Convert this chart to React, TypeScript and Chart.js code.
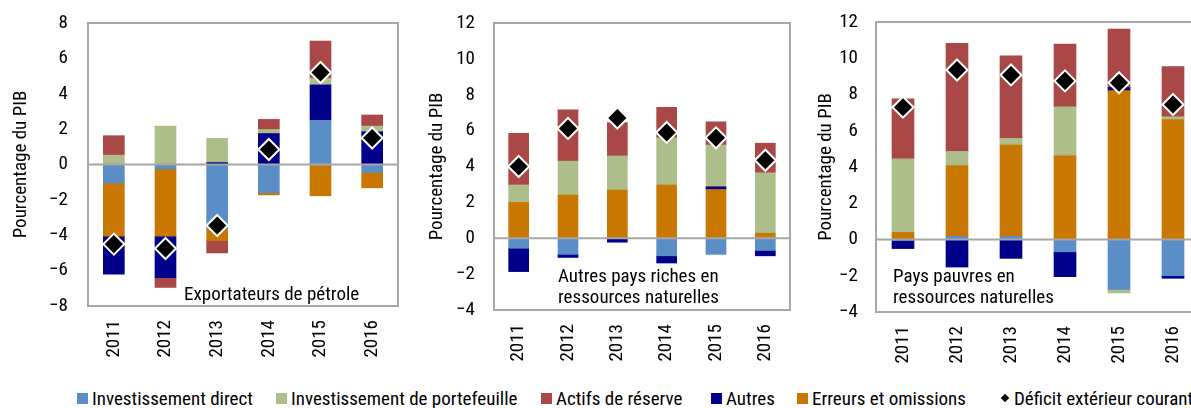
import React, { useEffect, useRef } from 'react';
import { Chart, registerables } from 'chart.js';

Chart.register(...registerables);

// ---------- data ----------
const years = ['2011', '2012', '2013', '2014', '2015', '2016'];
const yTitle = 'Pourcentage du PIB';

// Panel 1: Exportateurs de pétrole
const oilDirect = [-1.05, -0.25, -3.65, -1.6, 2.5, -0.45];
const oilErrors = [-3.0, -3.8, -0.65, -0.12, -1.77, -0.87];
const oilOther = [-2.15, -2.35, 0.11, 1.75, 2.0, 1.85];
const oilPortfolio = [0.53, 2.17, 1.37, 0.23, 0.38, 0.32];
const oilReserve = [1.1, -0.55, -0.7, 0.57, 2.1, 0.63];
const oilDeficit = [-4.5, -4.75, -3.45, 0.85, 5.2, 1.5];

// Panel 2: Autres pays riches en ressources naturelles
const richDirect = [-0.56, -0.9, -0.02, -0.98, -0.9, -0.68];
const richErrors = [2.0, 2.4, 2.68, 2.97, 2.72, 0.28];
const richOther = [-1.3, -0.17, -0.2, -0.4, 0.15, -0.3];
const richPortfolio = [0.97, 1.9, 1.91, 2.63, 2.33, 3.37];
const richReserve = [2.88, 2.86, 1.86, 1.7, 1.29, 1.65];
const richDeficit = [4.0, 6.12, 6.7, 5.9, 5.6, 4.35];

// Panel 3: Pays pauvres en ressources naturelles
const poorDirect = [-0.05, 0.17, 0.17, -0.68, -2.75, -2.0];
const poorErrors = [0.39, 3.91, 5.04, 4.62, 8.21, 6.62];
const poorOther = [-0.45, -1.52, -1.04, -1.37, 0.18, -0.14];
const poorPortfolio = [4.06, 0.78, 0.37, 2.7, -0.2, 0.15];
const poorReserve = [3.31, 5.97, 4.55, 3.46, 3.22, 2.77];
const poorDeficit = [7.3, 9.35, 9.08, 8.75, 8.65, 7.45];

const panel1Label = ['Exportateurs de pétrole'];
const panel2Label = ['Autres pays riches en', 'ressources naturelles'];
const panel3Label = ['Pays pauvres en', 'ressources naturelles'];

const seriesNames = {
  direct: 'Investissement direct',
  portfolio: 'Investissement de portefeuille',
  reserve: 'Actifs de réserve',
  other: 'Autres',
  errors: 'Erreurs et omissions',
  deficit: 'Déficit extérieur courant',
};

const COLORS = {
  direct: '#5B8DC6',
  portfolio: '#ADBE8A',
  reserve: '#A94846',
  other: '#00008A',
  errors: '#C87700',
  frame: '#A6A6A6',
};

// ---------- fonts ----------
function hasFont(name: string): boolean {
  try {
    const c = document.createElement('canvas').getContext('2d');
    if (!c) return false;
    const s = 'Investissement 2011 Wm';
    c.font = '40px monospace';
    const a = c.measureText(s).width;
    c.font = `40px "${name}", monospace`;
    const b = c.measureText(s).width;
    return Math.abs(a - b) > 0.5;
  } catch (e) {
    return false;
  }
}
const CONDENSED = hasFont('Roboto Condensed');
const FAMILY = CONDENSED
  ? '"Roboto Condensed", "Liberation Sans", Arial, sans-serif'
  : '"Liberation Sans", Arial, sans-serif';
const FS = CONDENSED ? 19 : 17;

interface PanelSpec {
  direct: number[];
  errors: number[];
  other: number[];
  portfolio: number[];
  reserve: number[];
  deficit: number[];
  min: number;
  max: number;
  left: number;
  width: number;
  height: number;
  axisW: number;
  right: number;
  top: number;
  bottom: number;
  barW: number;
  titleCenter: number;
  tickPad: number;
  label: string[];
  labelX: number;
  labelY: number[];
}

const H = 380;

const panels: PanelSpec[] = [
  {
    direct: oilDirect, errors: oilErrors, other: oilOther, portfolio: oilPortfolio, reserve: oilReserve, deficit: oilDeficit,
    min: -8, max: 8,
    left: 0, width: 412, height: H, axisW: 88, right: 398, top: 23, bottom: 306,
    barW: 21, titleCenter: 21, tickPad: 20,
    label: panel1Label, labelX: 184, labelY: [295],
  },
  {
    direct: richDirect, errors: richErrors, other: richOther, portfolio: richPortfolio, reserve: richReserve, deficit: richDeficit,
    min: -4, max: 12,
    left: 404, width: 400, height: H, axisW: 90, right: 386, top: 23, bottom: 310,
    barW: 20, titleCenter: 33.5, tickPad: 19,
    label: panel2Label, labelX: 154, labelY: [277, 298],
  },
  {
    direct: poorDirect, errors: poorErrors, other: poorOther, portfolio: poorPortfolio, reserve: poorReserve, deficit: poorDeficit,
    min: -4, max: 12,
    left: 800, width: 414, height: H, axisW: 76, right: 400, top: 22, bottom: 312,
    barW: 22, titleCenter: 26, tickPad: 18,
    label: panel3Label, labelX: 93, labelY: [277, 298],
  },
];

const framePlugin = {
  id: 'frameAndLabel',
  afterDraw(chart: any, _args: any, opts: any) {
    const { ctx, chartArea } = chart;
    const { left, top, right, bottom } = chartArea;
    const y0 = chart.scales.y.getPixelForValue(0);
    ctx.save();
    ctx.strokeStyle = COLORS.frame;
    ctx.lineWidth = 2;
    ctx.beginPath();
    ctx.moveTo(left, y0);
    ctx.lineTo(right, y0);
    ctx.stroke();
    ctx.strokeRect(left, top, right - left, bottom - top);
    ctx.fillStyle = '#000';
    ctx.font = `${FS}px ${FAMILY}`;
    ctx.textAlign = 'left';
    ctx.textBaseline = 'middle';
    (opts.lines || []).forEach((t: string, i: number) => {
      ctx.fillText(t, opts.x, opts.ys[i]);
    });
    ctx.restore();
  },
};

function buildConfig(p: PanelSpec): any {
  const font = { family: FAMILY, size: FS };
  const bar = (label: string, data: number[], color: string) => ({
    type: 'bar',
    label,
    data,
    backgroundColor: color,
    borderWidth: 0,
    barThickness: p.barW,
    stack: 'flows',
    order: 1,
  });
  return {
    type: 'bar',
    data: {
      labels: years,
      datasets: [
        bar(seriesNames.direct, p.direct, COLORS.direct),
        bar(seriesNames.errors, p.errors, COLORS.errors),
        bar(seriesNames.other, p.other, COLORS.other),
        bar(seriesNames.portfolio, p.portfolio, COLORS.portfolio),
        bar(seriesNames.reserve, p.reserve, COLORS.reserve),
        {
          type: 'line',
          label: seriesNames.deficit,
          data: p.deficit,
          showLine: false,
          stack: 'deficit',
          order: 0,
          pointStyle: 'rectRot',
          pointRadius: 10.5,
          pointHoverRadius: 10.5,
          pointBackgroundColor: '#000',
          pointBorderColor: '#fff',
          pointBorderWidth: 2,
        },
      ],
    },
    options: {
      responsive: false,
      animation: false,
      events: [],
      layout: { autoPadding: false, padding: { top: p.top, right: p.width - p.right, left: 0, bottom: 0 } },
      plugins: {
        legend: { display: false },
        tooltip: { enabled: false },
        frameAndLabel: { lines: p.label, x: p.labelX, ys: p.labelY },
      },
      scales: {
        x: {
          stacked: true,
          offset: true,
          grid: { display: false, drawTicks: false },
          border: { display: false },
          ticks: {
            autoSkip: false,
            minRotation: 90,
            maxRotation: 90,
            padding: 14,
            color: '#000',
            font,
          },
          afterFit: (s: any) => {
            s.height = p.height - p.bottom;
            s.paddingLeft = 0;
            s.paddingRight = 0;
          },
        },
        y: {
          stacked: true,
          min: p.min,
          max: p.max,
          grid: { display: false, drawTicks: false },
          border: { display: false },
          ticks: {
            stepSize: 2,
            padding: p.tickPad,
            color: '#000',
            font,
            callback: (v: any) => String(v).replace('-', '\u2212'),
          },
          title: {
            display: true,
            text: yTitle,
            color: '#000',
            font,
            padding: { top: p.titleCenter - (FS * 1.2) / 2, bottom: 0 },
          },
          afterFit: (s: any) => {
            s.width = p.axisW;
            s.paddingTop = 0;
            s.paddingBottom = 0;
          },
        },
      },
    },
    plugins: [framePlugin],
  };
}

function Panel({ spec }: { spec: PanelSpec }) {
  const ref = useRef<HTMLCanvasElement | null>(null);
  useEffect(() => {
    if (!ref.current) return;
    const chart = new Chart(ref.current, buildConfig(spec));
    return () => chart.destroy();
  }, [spec]);
  return (
    <canvas
      ref={ref}
      width={spec.width}
      height={spec.height}
      style={{ position: 'absolute', left: spec.left, top: 0, width: spec.width, height: spec.height }}
    />
  );
}

const legendItems = [
  { label: seriesNames.direct, color: COLORS.direct, x: 77 },
  { label: seriesNames.portfolio, color: COLORS.portfolio, x: 276 },
  { label: seriesNames.reserve, color: COLORS.reserve, x: 541 },
  { label: seriesNames.other, color: COLORS.other, x: 711 },
  { label: seriesNames.errors, color: COLORS.errors, x: 797 },
];

const legendTextStyle = {
  position: 'absolute' as const,
  top: 386,
  height: 24,
  display: 'flex',
  alignItems: 'center',
  whiteSpace: 'nowrap' as const,
  fontFamily: FAMILY,
  fontSize: FS,
  color: '#000',
};

export default function App() {
  useEffect(() => {
    document.body.style.margin = '0';
  }, []);
  return (
    <div style={{ position: 'relative', width: 1191, height: 408, overflow: 'hidden', background: '#fff' }}>
      {panels.map((p, i) => (
        <Panel key={i} spec={p} />
      ))}
      {legendItems.map((it) => (
        <div key={it.label} style={{ ...legendTextStyle, left: it.x }}>
          <span style={{ display: 'inline-block', width: 11, height: 11, background: it.color, marginRight: 4 }} />
          <span>{it.label}</span>
        </div>
      ))}
      <div style={{ ...legendTextStyle, left: 1000 }}>
        <span
          style={{ display: 'inline-block', width: 6, height: 6, background: '#000', transform: 'rotate(45deg)', marginRight: 6, marginLeft: 2 }}
        />
        <span>{seriesNames.deficit}</span>
      </div>
    </div>
  );
}
